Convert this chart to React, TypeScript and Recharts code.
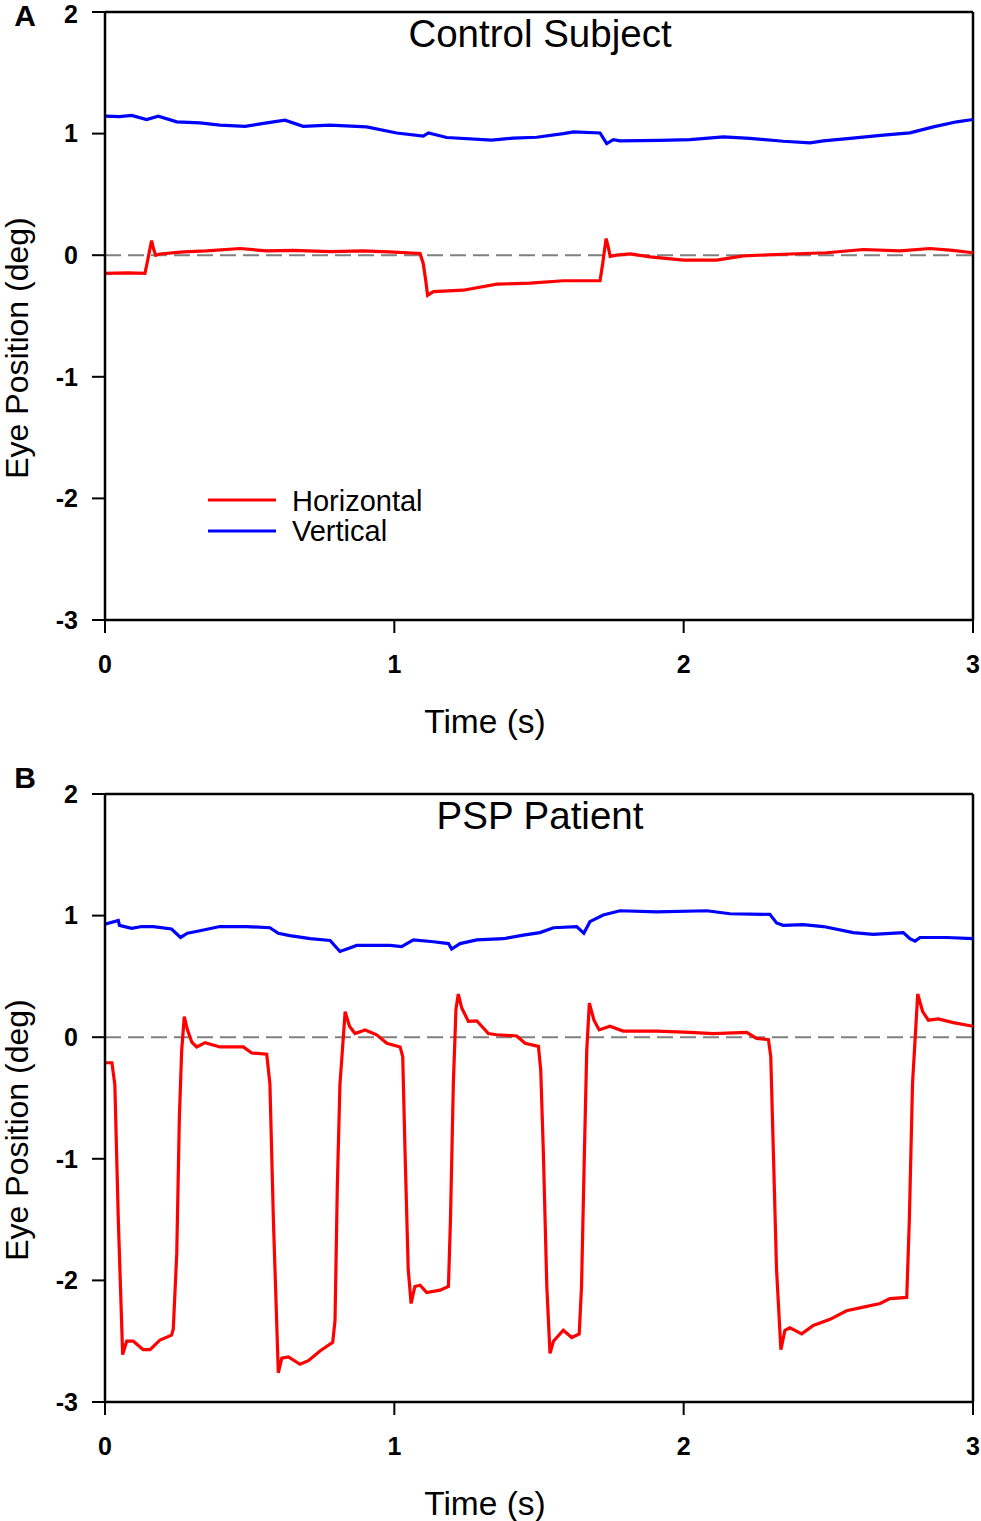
import React from 'react';
import { LineChart, Line, XAxis, YAxis, ReferenceLine, Legend } from 'recharts';

// ---- data ----
const timeTicks = [0, 1, 2, 3];
const posTicks = [-3, -2, -1, 0, 1, 2];

// A: control subject
const ctrlHorizT = [0, 0.08, 0.138, 0.146, 0.161, 0.168, 0.175, 0.19, 0.271, 0.35, 0.467, 0.559, 0.65, 0.778, 0.893, 1.0, 1.089, 1.1, 1.108, 1.115, 1.135, 1.238, 1.354, 1.469, 1.584, 1.711, 1.72, 1.732, 1.74, 1.746, 1.768, 1.815, 1.884, 1.999, 2.114, 2.206, 2.344, 2.494, 2.621, 2.748, 2.851, 2.93, 3.0];
const ctrlHorizV = [-0.15, -0.145, -0.15, -0.06, 0.12, 0.05, 0.0, 0.01, 0.027, 0.035, 0.055, 0.035, 0.04, 0.03, 0.036, 0.025, 0.014, -0.07, -0.2, -0.33, -0.3, -0.288, -0.238, -0.23, -0.21, -0.21, -0.07, 0.137, 0.06, -0.01, 0.0, 0.01, -0.014, -0.041, -0.041, -0.005, 0.008, 0.02, 0.047, 0.036, 0.055, 0.04, 0.02];
const ctrlVertT = [0, 0.05, 0.092, 0.144, 0.184, 0.248, 0.328, 0.397, 0.484, 0.559, 0.622, 0.685, 0.778, 0.904, 1.008, 1.1, 1.118, 1.181, 1.336, 1.411, 1.492, 1.584, 1.619, 1.711, 1.734, 1.757, 1.78, 1.918, 2.022, 2.137, 2.229, 2.344, 2.437, 2.483, 2.575, 2.69, 2.782, 2.863, 2.944, 3.0];
const ctrlVertV = [1.143, 1.14, 1.15, 1.116, 1.143, 1.097, 1.088, 1.07, 1.06, 1.088, 1.11, 1.06, 1.07, 1.055, 1.005, 0.98, 1.005, 0.968, 0.946, 0.963, 0.97, 1.0, 1.014, 1.005, 0.918, 0.95, 0.94, 0.945, 0.95, 0.973, 0.96, 0.937, 0.924, 0.94, 0.96, 0.987, 1.006, 1.055, 1.097, 1.116];

// B: PSP patient
const pspHorizT = [0, 0.024, 0.034, 0.046, 0.061, 0.075, 0.098, 0.132, 0.156, 0.19, 0.23, 0.236, 0.248, 0.257, 0.265, 0.274, 0.285, 0.3, 0.317, 0.346, 0.397, 0.478, 0.507, 0.559, 0.57, 0.582, 0.599, 0.611, 0.634, 0.674, 0.703, 0.743, 0.787, 0.795, 0.803, 0.812, 0.83, 0.845, 0.864, 0.899, 0.939, 0.974, 1.02, 1.029, 1.037, 1.048, 1.058, 1.071, 1.089, 1.112, 1.158, 1.187, 1.194, 1.204, 1.213, 1.221, 1.233, 1.256, 1.285, 1.325, 1.354, 1.423, 1.452, 1.498, 1.506, 1.515, 1.527, 1.538, 1.55, 1.584, 1.613, 1.639, 1.647, 1.657, 1.665, 1.674, 1.69, 1.708, 1.745, 1.791, 1.907, 2.022, 2.102, 2.218, 2.252, 2.293, 2.301, 2.31, 2.321, 2.336, 2.35, 2.367, 2.408, 2.448, 2.506, 2.563, 2.621, 2.679, 2.713, 2.771, 2.78, 2.791, 2.809, 2.826, 2.846, 2.88, 2.932, 3.0];
const pspHorizV = [-0.21, -0.21, -0.39, -1.5, -2.61, -2.5, -2.5, -2.57, -2.57, -2.49, -2.45, -2.4, -1.78, -0.66, -0.11, 0.17, 0.06, -0.04, -0.08, -0.045, -0.08, -0.08, -0.13, -0.14, -0.385, -1.5, -2.76, -2.64, -2.63, -2.69, -2.66, -2.58, -2.51, -2.33, -1.22, -0.39, 0.21, 0.09, 0.03, 0.06, 0.02, -0.05, -0.08, -0.16, -0.94, -1.91, -2.19, -2.05, -2.04, -2.1, -2.08, -2.05, -1.5, -0.38, 0.23, 0.355, 0.24, 0.13, 0.135, 0.03, 0.02, 0.01, -0.05, -0.075, -0.27, -0.94, -2.05, -2.6, -2.5, -2.41, -2.47, -2.44, -2.05, -0.94, -0.11, 0.28, 0.14, 0.06, 0.09, 0.05, 0.05, 0.04, 0.03, 0.04, -0.01, -0.02, -0.16, -0.94, -1.91, -2.57, -2.41, -2.39, -2.44, -2.37, -2.32, -2.25, -2.22, -2.19, -2.15, -2.14, -1.5, -0.38, 0.355, 0.21, 0.14, 0.15, 0.12, 0.09];
const pspVertT = [0, 0.046, 0.05, 0.092, 0.127, 0.167, 0.23, 0.261, 0.285, 0.328, 0.397, 0.49, 0.57, 0.599, 0.639, 0.709, 0.778, 0.812, 0.841, 0.87, 0.985, 1.025, 1.066, 1.135, 1.187, 1.198, 1.227, 1.285, 1.377, 1.446, 1.503, 1.55, 1.63, 1.655, 1.676, 1.722, 1.78, 1.907, 2.08, 2.16, 2.298, 2.321, 2.344, 2.413, 2.483, 2.586, 2.655, 2.759, 2.782, 2.8, 2.817, 2.909, 3.0];
const pspVertV = [0.93, 0.96, 0.92, 0.895, 0.91, 0.91, 0.89, 0.82, 0.855, 0.875, 0.91, 0.91, 0.9, 0.855, 0.835, 0.81, 0.795, 0.705, 0.73, 0.755, 0.755, 0.745, 0.8, 0.785, 0.77, 0.725, 0.77, 0.8, 0.81, 0.84, 0.86, 0.9, 0.91, 0.855, 0.95, 1.005, 1.04, 1.03, 1.04, 1.015, 1.01, 0.94, 0.92, 0.925, 0.91, 0.86, 0.845, 0.86, 0.81, 0.79, 0.82, 0.82, 0.81];

const toPoints = (ts: number[], vs: number[]) => ts.map((t, i) => ({ t, v: vs[i] }));

const FONT = '"Liberation Sans", Arial, Helvetica, sans-serif';
const RED = '#ff0000';
const BLUE = '#0000ff';

function LegendBox() {
  return (
    <svg width={240} height={70} style={{ overflow: 'visible' }}>
      <line x1={0} y1={20} x2={68} y2={20} stroke={RED} strokeWidth={3} />
      <text x={84} y={31} fontFamily={FONT} fontSize={29} fill="#000">Horizontal</text>
      <line x1={0} y1={51} x2={68} y2={51} stroke={BLUE} strokeWidth={3} />
      <text x={84} y={61} fontFamily={FONT} fontSize={29} fill="#000">Vertical</text>
    </svg>
  );
}

interface PanelProps {
  letter: string;
  title: string;
  horiz: { t: number; v: number }[];
  vert: { t: number; v: number }[];
  top: number;
  height: number;
  marginTop: number;
  showLegend?: boolean;
  letterY: number;
}

function Panel({ letter, title, horiz, vert, top, height, marginTop, showLegend, letterY }: PanelProps) {
  const plotTop = marginTop;
  const plotH = 608;
  const axisStyle = { stroke: '#000', strokeWidth: 2.5 };
  const tickFont = { fill: '#000', fontSize: 25, fontWeight: 700, fontFamily: FONT };
  return (
    <div style={{ position: 'absolute', left: 0, top, width: 981, height }}>
      <LineChart width={981} height={height} margin={{ top: marginTop, right: 8, bottom: 0, left: 0 }}>
        <XAxis
          type="number"
          dataKey="t"
          domain={[0, 3]}
          ticks={timeTicks}
          allowDataOverflow
          height={height - marginTop - plotH}
          axisLine={axisStyle}
          tickLine={{ stroke: '#000', strokeWidth: 2 }}
          tickSize={13}
          tickMargin={22}
          tick={tickFont}
        />
        <YAxis
          type="number"
          dataKey="v"
          domain={[-3, 2]}
          ticks={posTicks}
          allowDataOverflow
          width={105}
          axisLine={axisStyle}
          tickLine={{ stroke: '#000', strokeWidth: 2 }}
          tickSize={13}
          tickMargin={14}
          tick={tickFont}
        />
        <ReferenceLine y={2} stroke="#000" strokeWidth={2.5} />
        <ReferenceLine x={3} stroke="#000" strokeWidth={2.5} />
        <ReferenceLine y={0} stroke="#808080" strokeWidth={2} strokeDasharray="16 7" />
        <Line data={vert} dataKey="v" name="Vertical" type="linear" stroke={BLUE} strokeWidth={3.2} dot={false} isAnimationActive={false} />
        <Line data={horiz} dataKey="v" name="Horizontal" type="linear" stroke={RED} strokeWidth={3.2} dot={false} isAnimationActive={false} />
        {showLegend && (
          <Legend
            layout="horizontal"
            verticalAlign="middle"
            align="center"
            content={() => <LegendBox />}
            wrapperStyle={{ position: 'absolute', left: 208, top: 480 - top, width: 240, height: 70 }}
          />
        )}
        <text x={25} y={letterY} fontFamily={FONT} fontSize={30} fontWeight={700} textAnchor="middle" fill="#000">{letter}</text>
        <text x={540} y={plotTop + 35} fontFamily={FONT} fontSize={38.5} textAnchor="middle" fill="#000">{title}</text>
        <text x={485} y={plotTop + plotH + 113} fontFamily={FONT} fontSize={33.5} textAnchor="middle" fill="#000">Time (s)</text>
        <text
          x={28}
          y={plotTop + 336}
          fontFamily={FONT}
          fontSize={32}
          textAnchor="middle"
          fill="#000"
          transform={`rotate(-90 28 ${plotTop + 336})`}
        >
          Eye Position (deg)
        </text>
      </LineChart>
    </div>
  );
}

export default function App() {
  return (
    <div style={{ position: 'absolute', left: 0, top: 0, width: 981, height: 1521, background: '#fff' }}>
      <Panel
        letter="A"
        title="Control Subject"
        horiz={toPoints(ctrlHorizT, ctrlHorizV)}
        vert={toPoints(ctrlVertT, ctrlVertV)}
        top={0}
        height={760}
        marginTop={12}
        letterY={26}
        showLegend
      />
      <Panel
        letter="B"
        title="PSP Patient"
        horiz={toPoints(pspHorizT, pspHorizV)}
        vert={toPoints(pspVertT, pspVertV)}
        top={760}
        height={761}
        marginTop={34}
        letterY={28}
      />
    </div>
  );
}
